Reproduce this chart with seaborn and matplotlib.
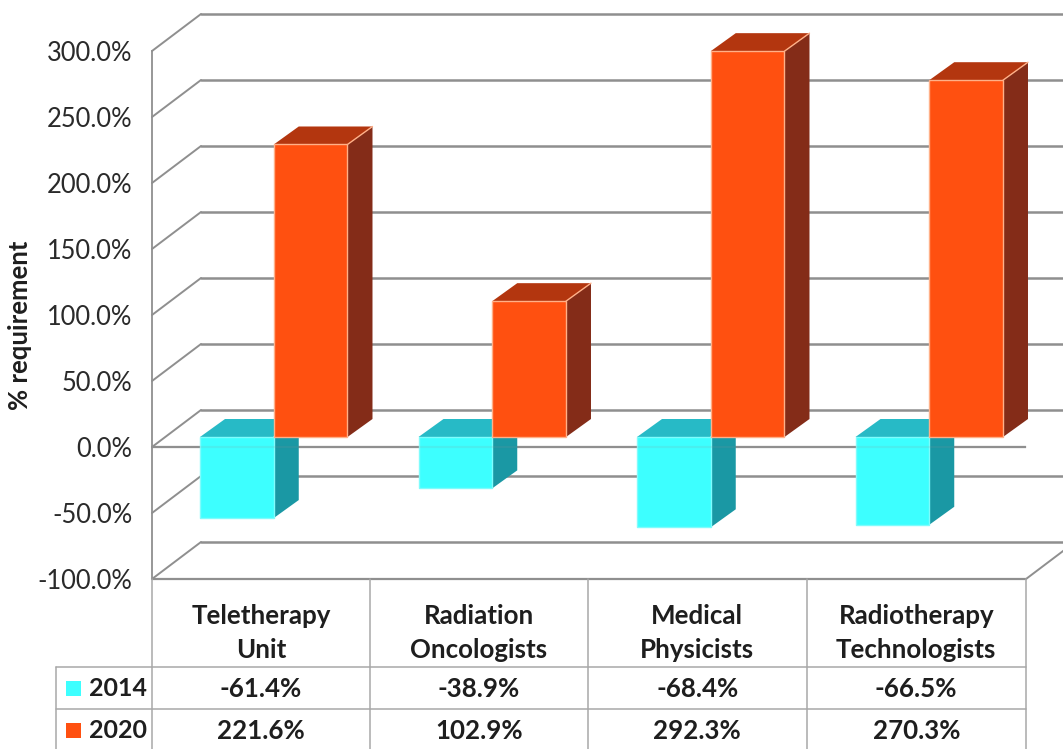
import matplotlib
matplotlib.use("Agg")
import matplotlib.pyplot as plt
import pandas as pd
import seaborn as sns
from matplotlib.lines import Line2D
from matplotlib.patches import Polygon, Rectangle
from matplotlib.transforms import Affine2D, IdentityTransform

categories = ["Teletherapy\nUnit", "Radiation\nOncologists", "Medical\nPhysicists", "Radiotherapy\nTechnologists"]
years = ["2014", "2020"]
values_2014 = [-61.4, -38.9, -68.4, -66.5]
values_2020 = [221.6, 102.9, 292.3, 270.3]
y_ticks = [-100, -50, 0, 50, 100, 150, 200, 250, 300]

W, H = 1063, 749
GRID = "#8f8f8f"
TEXT = "#1e1e1e"
FACE = {"2014": "#3dffff", "2020": "#ff5010"}
SIDE = {"2014": "#1a98a4", "2020": "#842c18"}
TOP = {"2014": "#27bac6", "2020": "#b3360f"}
EDGE = {"2014": "#7ffcfc", "2020": "#ffb088"}

sns.set_theme(style="white")
plt.rcParams["font.family"] = ["Lato", "DejaVu Sans"]

df = pd.DataFrame({
    "category": categories * 2,
    "year": [years[0]] * 4 + [years[1]] * 4,
    "value": values_2014 + values_2020,
})

fig = plt.figure(figsize=(W / 100, H / 100), dpi=100, facecolor="white")

def frame(left, right, y_bottom, y_top):
    return [left / W, (H - y_bottom) / H, (right - left) / W, (y_bottom - y_top) / H]

# Front plane of the box: value axis and category columns.
wall = fig.add_axes(frame(152, 1026, 579, 51))
wall.set_xlim(-0.5, 3.5)
wall.set_ylim(-100, 300)
wall.set_xticks([])
wall.set_yticks(y_ticks, [f"{t:.1f}%" for t in y_ticks])
wall.tick_params(axis="y", length=0, pad=14, labelsize=18.4, labelcolor="#2a2a2a")
for name, spine in wall.spines.items():
    spine.set_visible(name == "left")
wall.spines["left"].set_color(GRID)
wall.spines["left"].set_linewidth(1.3)
fig.text(20 / W, 1 - 325 / H, "% requirement", rotation=90, ha="center", va="center",
         fontsize=18.5, fontweight="bold", color=TEXT)

# Back wall, floor and side-wall gridlines, pushed into the depth of the box.
DEPTH = (49, 37)
back = wall.transData + Affine2D().translate(*DEPTH)
for t in y_ticks:
    wall.plot([-0.5, 4.5], [t, t], color=GRID, lw=1.8, transform=back, clip_on=False, zorder=1)
    x0, y0 = wall.transData.transform((-0.5, t))
    wall.add_line(Line2D([x0, x0 + DEPTH[0]], [y0, y0 + DEPTH[1]], color=GRID, lw=1.4,
                         transform=IdentityTransform(), clip_on=False, zorder=1))
x0, y0 = wall.transData.transform((3.5, -100))
wall.add_line(Line2D([x0, x0 + DEPTH[0]], [y0, y0 + DEPTH[1]], color=GRID, lw=1.4,
                     transform=IdentityTransform(), clip_on=False, zorder=1))
wall.axhline(0, color=GRID, lw=1.6, zorder=1)
wall.axhline(-100, color=GRID, lw=1.6, zorder=1, clip_on=False)
wall.set_xlim(-0.5, 3.5)
wall.set_ylim(-100, 300)

# Bars sit partway into the box, so they get their own transparent axes.
ax = fig.add_axes(frame(164.5, 1038.5, 569, 41))
ax.patch.set_visible(False)
sns.barplot(data=df, x="category", y="value", hue="year", order=categories, hue_order=years,
            palette=FACE, width=0.675, gap=0, saturation=1, legend=False, ax=ax)
ax.set_xlim(-0.5, 3.5)
ax.set_ylim(-100, 300)
ax.axis("off")

BAR_DEPTH = (25, 18)
dx, dy = BAR_DEPTH
for group, year in zip((ax.containers[0], ax.containers[1]), years):
    level = 2 if year == years[0] else 5
    for bar in group:
        bar.set_edgecolor(EDGE[year])
        bar.set_linewidth(1.0)
        bar.set_zorder(level + 1)
        (x1, y1), (x2, y2) = ax.transData.transform(bar.get_bbox().get_points())
        lo, hi = min(y1, y2), max(y1, y2)
        side = [(x2, lo), (x2, hi), (x2 + dx, hi + dy), (x2 + dx, lo + dy)]
        top = [(x1, hi), (x2, hi), (x2 + dx, hi + dy), (x1 + dx, hi + dy)]
        ax.add_patch(Polygon(side, closed=True, facecolor=SIDE[year], edgecolor="none",
                             transform=IdentityTransform(), zorder=level, clip_on=False))
        ax.add_patch(Polygon(top, closed=True, facecolor=TOP[year], edgecolor="none",
                             transform=IdentityTransform(), zorder=level, clip_on=False))
        ax.add_line(Line2D([x2, x2 + dx], [hi, hi + dy], color=EDGE[year], lw=1.0,
                           transform=IdentityTransform(), zorder=level, clip_on=False))

# The front zero line shows faintly through the shorter bars.
ax.add_line(Line2D([-0.5, 3.5], [0, 0], color=GRID, lw=1.6, alpha=0.14,
                   transform=wall.transData, zorder=4, clip_on=False))

# Data table under the plot.
def hline(y, x_start, x_end):
    fig.add_artist(Line2D([x_start / W, x_end / W], [1 - y / H, 1 - y / H], color="#a8a8a8", lw=1.1))

def vline(x, y_start, y_end):
    fig.add_artist(Line2D([x / W, x / W], [1 - y_start / H, 1 - y_end / H], color="#a8a8a8", lw=1.1))

column_edges = [152, 370, 588, 806.5, 1026]
column_mids = [(a + b) / 2 for a, b in zip(column_edges, column_edges[1:])]
hline(667, 56, 1026)
hline(709, 56, 1026)
vline(56, 667, 749)
for edge in column_edges:
    vline(edge, 579, 749)

TABLE_SIZE = 18.6
for mid, label, low, high in zip(column_mids, categories, values_2014, values_2020):
    first, second = label.split("\n")
    fig.text(mid / W, 1 - 616 / H, first, ha="center", va="center", fontsize=TABLE_SIZE,
             fontweight="bold", color=TEXT)
    fig.text(mid / W, 1 - 650 / H, second, ha="center", va="center", fontsize=TABLE_SIZE,
             fontweight="bold", color=TEXT)
    fig.text(mid / W, 1 - 689 / H, f"{low:.1f}%", ha="center", va="center", fontsize=TABLE_SIZE,
             fontweight="bold", color=TEXT)
    fig.text(mid / W, 1 - 731 / H, f"{high:.1f}%", ha="center", va="center", fontsize=TABLE_SIZE,
             fontweight="bold", color=TEXT)

for year, y_mid in zip(years, (688, 730)):
    fig.add_artist(Rectangle((66 / W, 1 - (y_mid + 7.5) / H), 15 / W, 15 / H, facecolor=FACE[year],
                             edgecolor="none", transform=fig.transFigure))
    fig.text(89 / W, 1 - y_mid / H, year, ha="left", va="center", fontsize=18,
             fontweight="bold", color=TEXT)

fig.savefig("out.png", dpi=100)
